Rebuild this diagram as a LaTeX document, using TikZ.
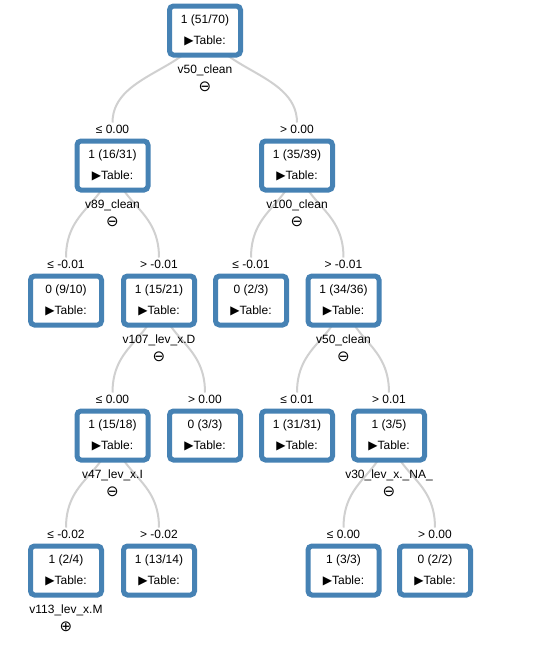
\documentclass[tikz,border=0pt]{standalone}
\usepackage{fontspec}
\setmainfont{Liberation Sans}
\newfontfamily\dv{DejaVu Sans}
\usetikzlibrary{calc}
\definecolor{steel}{RGB}{70,130,180}
\definecolor{linkgray}{RGB}{208,208,208}
\tikzset{
  box/.style={rectangle, rounded corners=4pt, draw=steel, line width=5pt, fill=white,
    minimum width=71pt, minimum height=49pt, inner sep=0pt, align=center,
    font=\fontsize{12}{21}\selectfont},
  elabel/.style={font=\fontsize{12}{14}\selectfont, inner sep=0pt},
  svar/.style={font=\fontsize{12}{14}\selectfont, inner sep=0pt},
  ssym/.style={font=\dv\fontsize{15}{16}\selectfont, inner sep=0pt},
  link/.style={draw=linkgray, line width=2pt}
}
\newcommand\boxtext[1]{#1\\{\dv\fontsize{12}{12}\selectfont ▶}Table:}
\newcommand\tlink[2]{\draw[link] ($(#1)+(0,-13)$) .. controls ($(#1)+(0,39.5)$) and ($(#2)+(0,-95.5)$) .. ($(#2)+(0,-43)$);}
\begin{document}
\begin{tikzpicture}[x=1pt,y=-1pt]
\fill[white] (0,0) rectangle (556,667);
\useasboundingbox (0,0) rectangle (556,667);
% node positions
\coordinate (r) at (205,30.5);
\coordinate (a) at (112.5,165.5);
\coordinate (b) at (297,165.5);
\coordinate (a1) at (66,300.5);
\coordinate (a2) at (159,300.5);
\coordinate (b1) at (251,300.5);
\coordinate (b2) at (343.5,300.5);
\coordinate (a2a) at (112.5,435.5);
\coordinate (a2b) at (205,435.5);
\coordinate (b2a) at (297,435.5);
\coordinate (b2b) at (389,435.5);
\coordinate (c1) at (66,570.5);
\coordinate (c2) at (159,570.5);
\coordinate (d1) at (343.5,570.5);
\coordinate (d2) at (435,570.5);
% links
\tlink{r}{a}
\tlink{r}{b}
\tlink{a}{a1}
\tlink{a}{a2}
\tlink{b}{b1}
\tlink{b}{b2}
\tlink{a2}{a2a}
\tlink{a2}{a2b}
\tlink{b2}{b2a}
\tlink{b2}{b2b}
\tlink{a2a}{c1}
\tlink{a2a}{c2}
\tlink{b2b}{d1}
\tlink{b2b}{d2}
% boxes
\node[box] (nr) at (r) {\boxtext{1 (51/70)}};
\node[box] (na) at (a) {\boxtext{1 (16/31)}};
\node[box] (nb) at (b) {\boxtext{1 (35/39)}};
\node[box] (na1) at (a1) {\boxtext{0 (9/10)}};
\node[box] (na2) at (a2) {\boxtext{1 (15/21)}};
\node[box] (nb1) at (b1) {\boxtext{0 (2/3)}};
\node[box] (nb2) at (b2) {\boxtext{1 (34/36)}};
\node[box] (na2a) at (a2a) {\boxtext{1 (15/18)}};
\node[box] (na2b) at (a2b) {\boxtext{0 (3/3)}};
\node[box] (nb2a) at (b2a) {\boxtext{1 (31/31)}};
\node[box] (nb2b) at (b2b) {\boxtext{1 (3/5)}};
\node[box] (nc1) at (c1) {\boxtext{1 (2/4)}};
\node[box] (nc2) at (c2) {\boxtext{1 (13/14)}};
\node[box] (nd1) at (d1) {\boxtext{1 (3/3)}};
\node[box] (nd2) at (d2) {\boxtext{0 (2/2)}};
% split variables
\node[svar] (vr) at ($(r)+(0,40)$) {v50\_clean};
\node[ssym] (sr) at ($(r)+(0,56)$) {⊖};
\node[svar] (va) at ($(a)+(0,40)$) {v89\_clean};
\node[ssym] (sa) at ($(a)+(0,56)$) {⊖};
\node[svar] (vb) at ($(b)+(0,40)$) {v100\_clean};
\node[ssym] (sb) at ($(b)+(0,56)$) {⊖};
\node[svar] (va2) at ($(a2)+(0,40)$) {v107\_lev\_x.D};
\node[ssym] (sa2) at ($(a2)+(0,56)$) {⊖};
\node[svar] (vb2) at ($(b2)+(0,40)$) {v50\_clean};
\node[ssym] (sb2) at ($(b2)+(0,56)$) {⊖};
\node[svar] (va2a) at ($(a2a)+(0,40)$) {v47\_lev\_x.I};
\node[ssym] (sa2a) at ($(a2a)+(0,56)$) {⊖};
\node[svar] (vb2b) at ($(b2b)+(0,40)$) {v30\_lev\_x.\_NA\_};
\node[ssym] (sb2b) at ($(b2b)+(0,56)$) {⊖};
\node[svar] (vc1) at ($(c1)+(0,40)$) {v113\_lev\_x.M};
\node[ssym] (sc1) at ($(c1)+(0,56)$) {⊕};
% edge labels
\node[elabel] (la) at ($(a)+(0,-36.5)$) {≤ 0.00};
\node[elabel] (lb) at ($(b)+(0,-36.5)$) {> 0.00};
\node[elabel] (la1) at ($(a1)+(0,-36.5)$) {≤ -0.01};
\node[elabel] (la2) at ($(a2)+(0,-36.5)$) {> -0.01};
\node[elabel] (lb1) at ($(b1)+(0,-36.5)$) {≤ -0.01};
\node[elabel] (lb2) at ($(b2)+(0,-36.5)$) {> -0.01};
\node[elabel] (la2a) at ($(a2a)+(0,-36.5)$) {≤ 0.00};
\node[elabel] (la2b) at ($(a2b)+(0,-36.5)$) {> 0.00};
\node[elabel] (lb2a) at ($(b2a)+(0,-36.5)$) {≤ 0.01};
\node[elabel] (lb2b) at ($(b2b)+(0,-36.5)$) {> 0.01};
\node[elabel] (lc1) at ($(c1)+(0,-36.5)$) {≤ -0.02};
\node[elabel] (lc2) at ($(c2)+(0,-36.5)$) {> -0.02};
\node[elabel] (ld1) at ($(d1)+(0,-36.5)$) {≤ 0.00};
\node[elabel] (ld2) at ($(d2)+(0,-36.5)$) {> 0.00};
\end{tikzpicture}
\end{document}
